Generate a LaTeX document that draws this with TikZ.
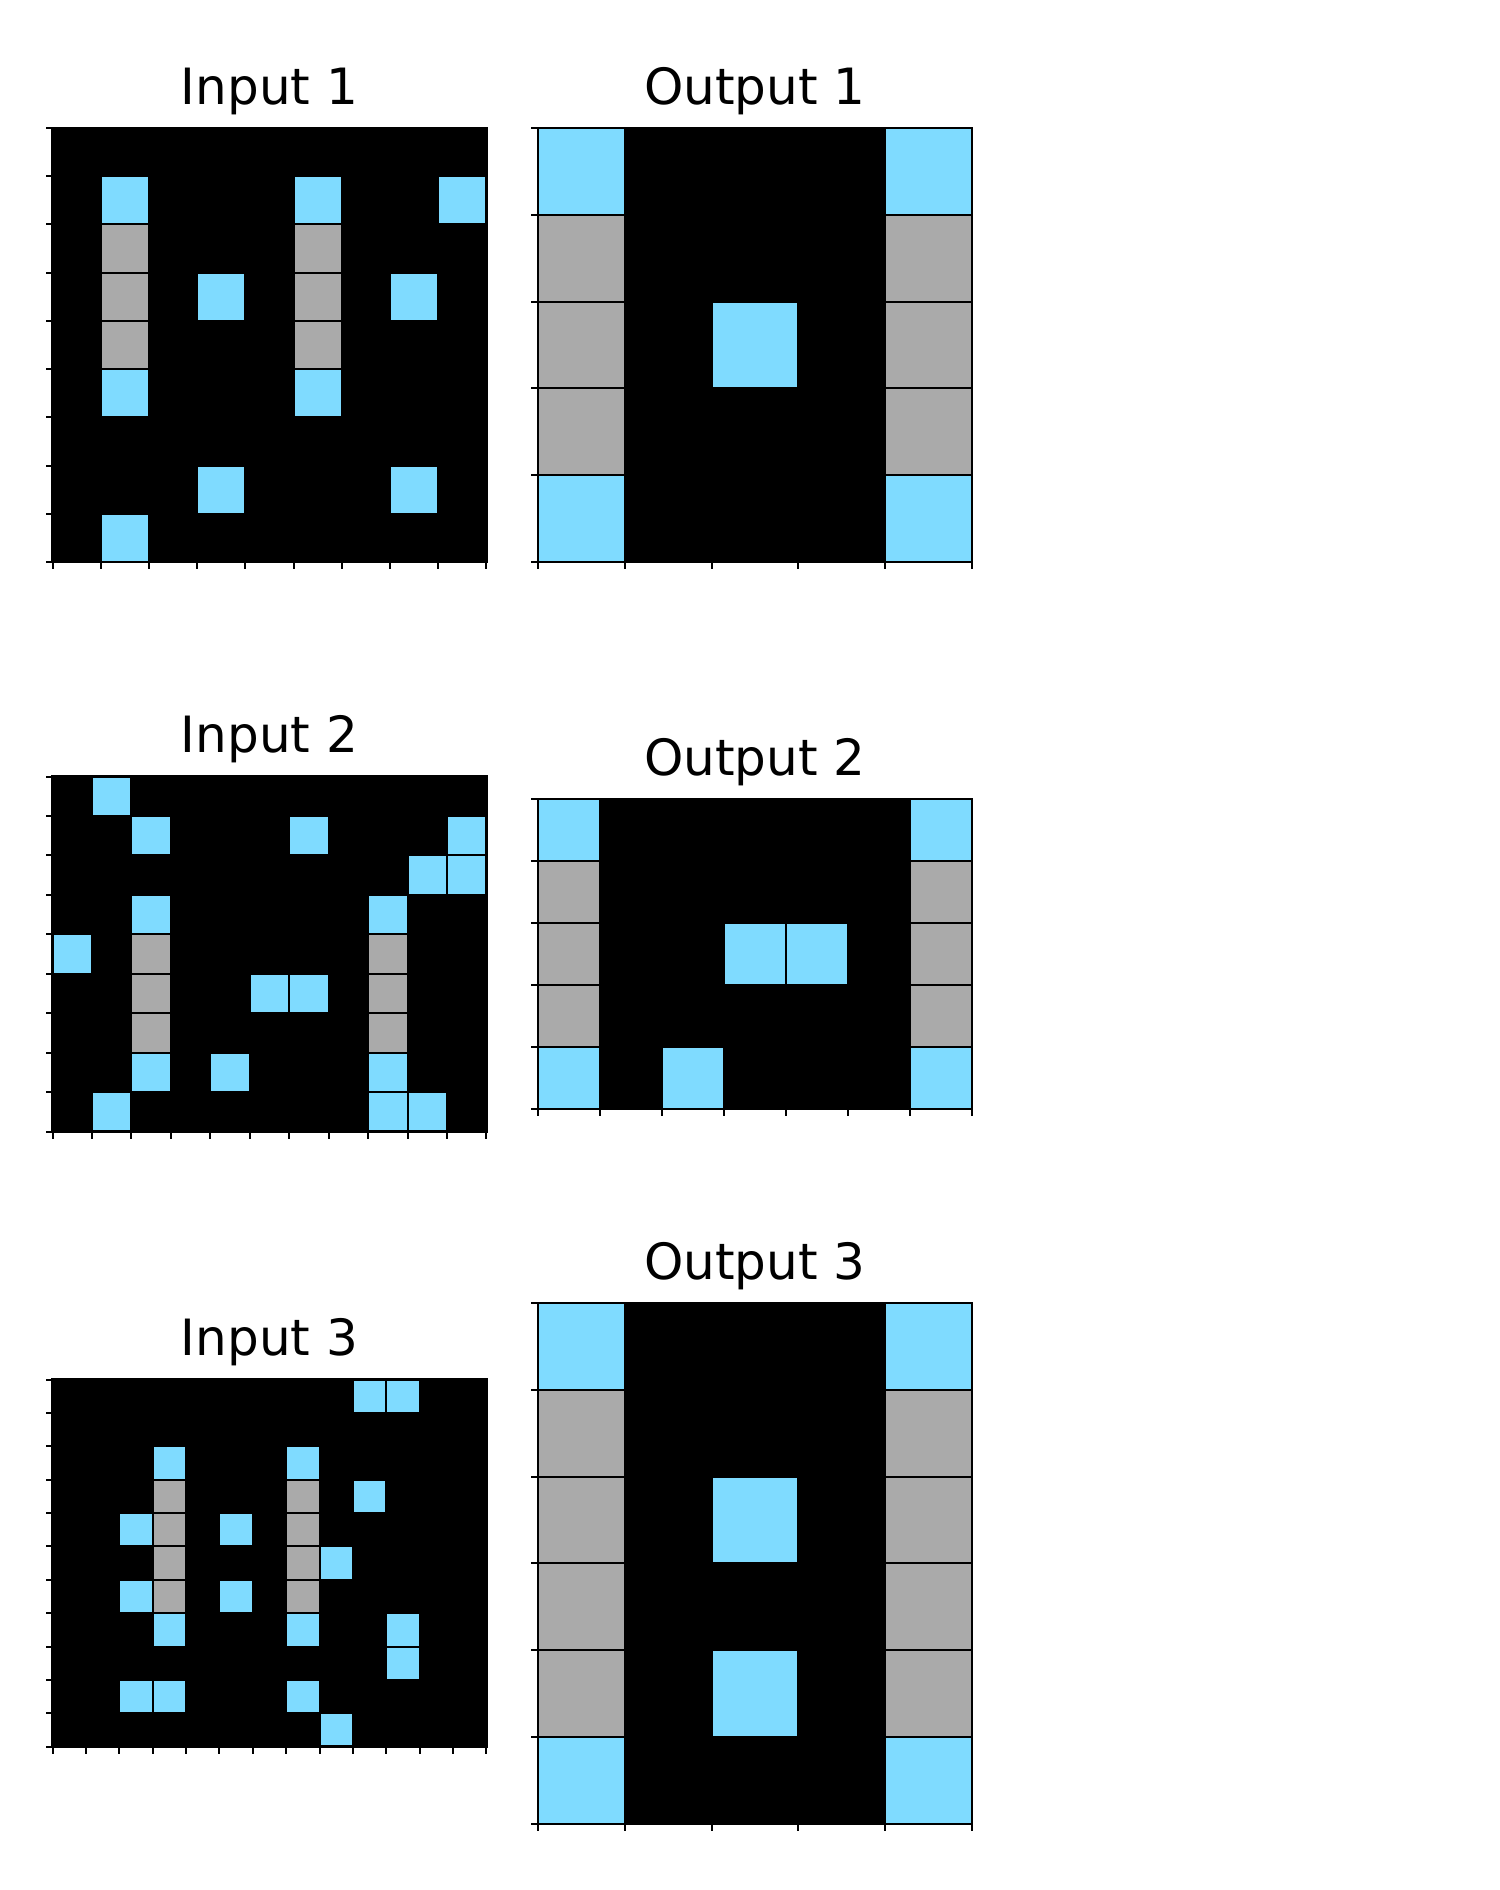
\documentclass[tikz,border=0pt]{standalone}
\usepackage{fontspec}
\setmainfont{DejaVu Sans}
\definecolor{arcteal}{HTML}{7FDBFF}
\definecolor{arcgrey}{HTML}{AAAAAA}

\begin{document}
\begin{tikzpicture}[x=0.24pt,y=-0.24pt,
    title/.style={anchor=base,font=\fontsize{12}{14}\selectfont},
    tealcell/.style={fill=arcteal,draw=black,line width=0.48pt},
    greycell/.style={fill=arcgrey,draw=black,line width=0.48pt},
    spine/.style={draw=black,line width=0.6pt},
    tick/.style={line width=0.48pt}]
  \useasboundingbox (0,0) rectangle (1500,1890);
  \draw
    (269.5,104) node[title] (in1) {Input 1}
    (755,104) node[title] (out1) {Output 1}
    (269.5,752.5) node[title] (in2) {Input 2}
    (755,775) node[title] (out2) {Output 2}
    (269.5,1355.5) node[title] (in3) {Input 3}
    (755,1279) node[title] (out3) {Output 3};
  % input 1, 9x9
  \begin{scope}[shift={(52.5,128)},x=11.573pt,y=-11.573pt]
    \fill[black] (0,0) rectangle (9,9);
    \foreach \c/\r in {1/1,5/1,8/1,3/3,7/3,1/5,5/5,3/7,7/7,1/8}
      \draw[tealcell] (\c,\r) rectangle ++(1,1);
    \foreach \c/\r in {1/2,5/2,1/3,5/3,1/4,5/4}
      \draw[greycell] (\c,\r) rectangle ++(1,1);
    \draw[spine] (0,0) rectangle (9,9);
    \foreach \i in {0,...,9}
      \draw[tick] (0,\i) -- ++(-1.68pt,0) (\i,9) -- ++(0,-1.68pt);
  \end{scope}
  % output 1, 5x5
  \begin{scope}[shift={(538,128)},x=20.832pt,y=-20.832pt]
    \fill[black] (0,0) rectangle (5,5);
    \foreach \c/\r in {0/0,4/0,2/2,0/4,4/4}
      \draw[tealcell] (\c,\r) rectangle ++(1,1);
    \foreach \c/\r in {0/1,4/1,0/2,4/2,0/3,4/3}
      \draw[greycell] (\c,\r) rectangle ++(1,1);
    \draw[spine] (0,0) rectangle (5,5);
    \foreach \i in {0,...,5}
      \draw[tick] (0,\i) -- ++(-1.68pt,0) (\i,5) -- ++(0,-1.68pt);
  \end{scope}
  % input 2, 11x9
  \begin{scope}[shift={(52.5,776.5)},x=9.469pt,y=-9.469pt]
    \fill[black] (0,0) rectangle (11,9);
    \foreach \c/\r in {1/0,2/1,6/1,10/1,9/2,10/2,2/3,8/3,0/4,5/5,6/5,2/7,4/7,8/7,1/8,8/8,9/8}
      \draw[tealcell] (\c,\r) rectangle ++(1,1);
    \foreach \c/\r in {2/4,8/4,2/5,8/5,2/6,8/6}
      \draw[greycell] (\c,\r) rectangle ++(1,1);
    \draw[spine] (0,0) rectangle (11,9);
    \foreach \i in {0,...,9}
      \draw[tick] (0,\i) -- ++(-1.68pt,0);
    \foreach \j in {0,...,11}
      \draw[tick] (\j,9) -- ++(0,-1.68pt);
  \end{scope}
  % output 2, 7x5
  \begin{scope}[shift={(538,799)},x=14.88pt,y=-14.88pt]
    \fill[black] (0,0) rectangle (7,5);
    \foreach \c/\r in {0/0,6/0,3/2,4/2,0/4,2/4,6/4}
      \draw[tealcell] (\c,\r) rectangle ++(1,1);
    \foreach \c/\r in {0/1,6/1,0/2,6/2,0/3,6/3}
      \draw[greycell] (\c,\r) rectangle ++(1,1);
    \draw[spine] (0,0) rectangle (7,5);
    \foreach \i in {0,...,5}
      \draw[tick] (0,\i) -- ++(-1.68pt,0);
    \foreach \j in {0,...,7}
      \draw[tick] (\j,5) -- ++(0,-1.68pt);
  \end{scope}
  % input 3, 13x11
  \begin{scope}[shift={(52.5,1379.5)},x=8.012pt,y=-8.012pt]
    \fill[black] (0,0) rectangle (13,11);
    \foreach \c/\r in {9/0,10/0,3/2,7/2,9/3,2/4,5/4,8/5,2/6,5/6,3/7,7/7,10/7,10/8,2/9,3/9,7/9,8/10}
      \draw[tealcell] (\c,\r) rectangle ++(1,1);
    \foreach \c/\r in {3/3,7/3,3/4,7/4,3/5,7/5,3/6,7/6}
      \draw[greycell] (\c,\r) rectangle ++(1,1);
    \draw[spine] (0,0) rectangle (13,11);
    \foreach \i in {0,...,11}
      \draw[tick] (0,\i) -- ++(-1.68pt,0);
    \foreach \j in {0,...,13}
      \draw[tick] (\j,11) -- ++(0,-1.68pt);
  \end{scope}
  % output 3, 5x6
  \begin{scope}[shift={(538,1303)},x=20.832pt,y=-20.832pt]
    \fill[black] (0,0) rectangle (5,6);
    \foreach \c/\r in {0/0,4/0,2/2,2/4,0/5,4/5}
      \draw[tealcell] (\c,\r) rectangle ++(1,1);
    \foreach \c/\r in {0/1,4/1,0/2,4/2,0/3,4/3,0/4,4/4}
      \draw[greycell] (\c,\r) rectangle ++(1,1);
    \draw[spine] (0,0) rectangle (5,6);
    \foreach \i in {0,...,6}
      \draw[tick] (0,\i) -- ++(-1.68pt,0);
    \foreach \j in {0,...,5}
      \draw[tick] (\j,6) -- ++(0,-1.68pt);
  \end{scope}
\end{tikzpicture}
\end{document}
